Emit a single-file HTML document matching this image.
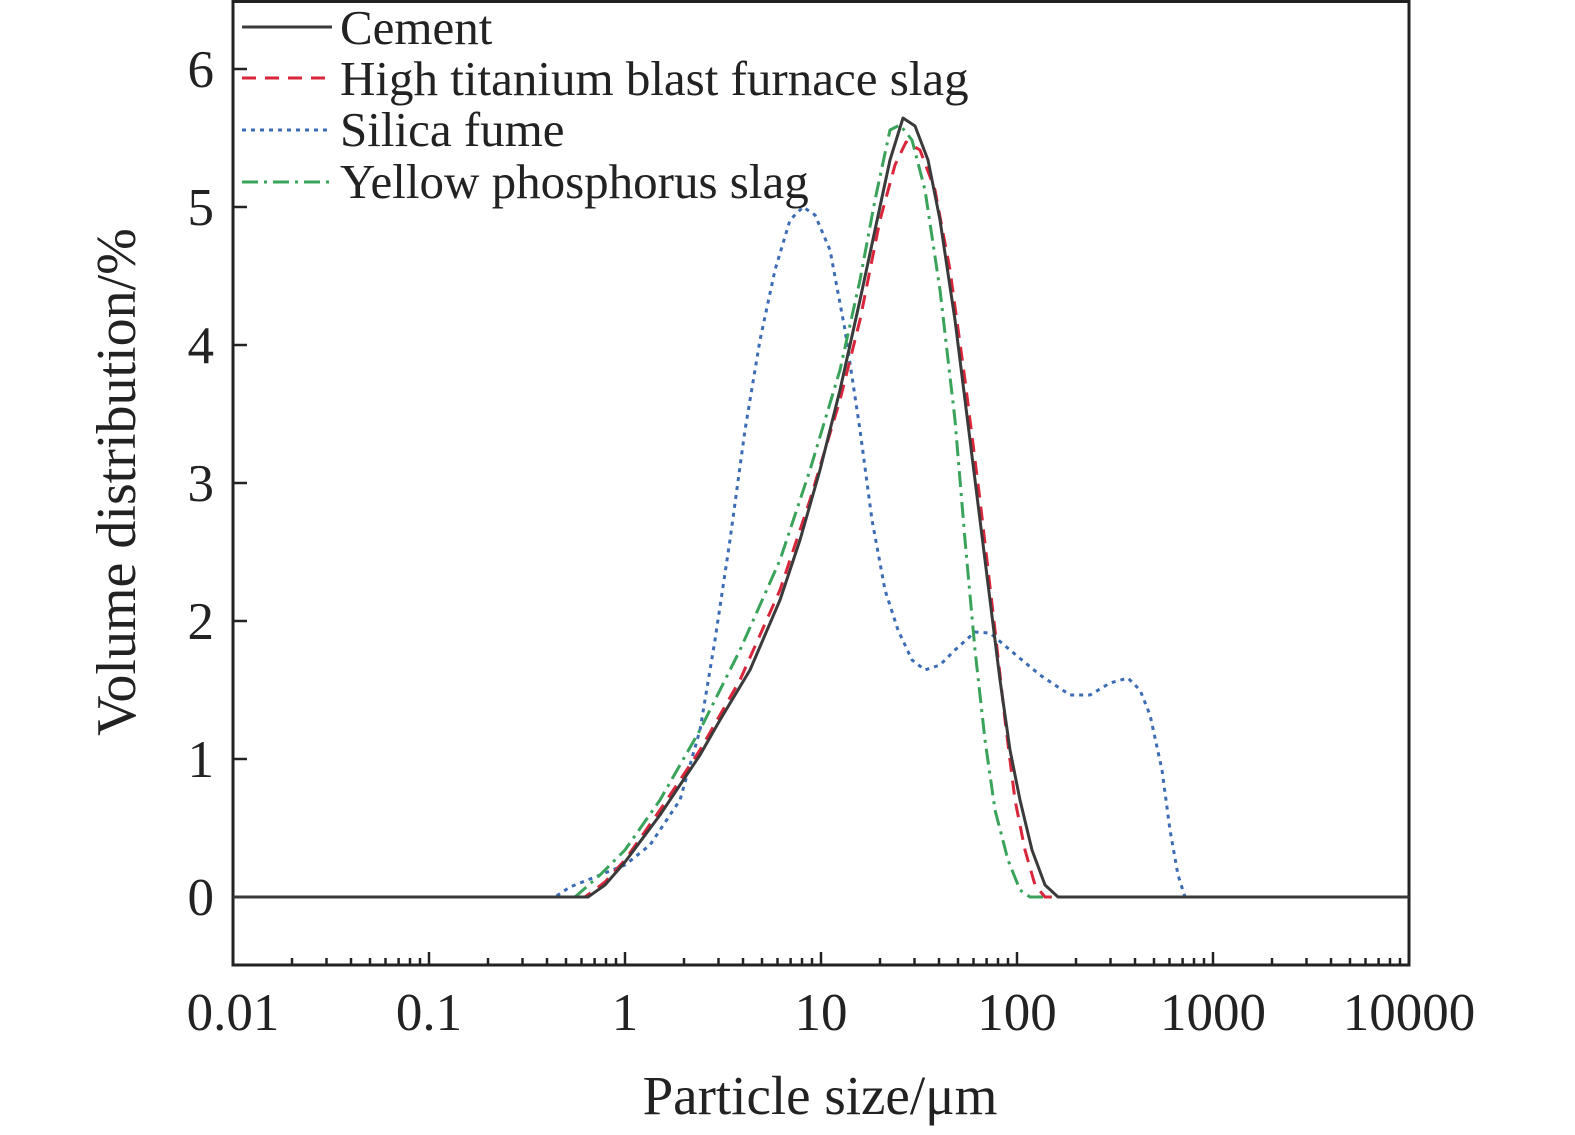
<!DOCTYPE html>
<html><head><style>html,body{margin:0;padding:0;background:#fff;overflow:hidden;width:1575px;height:1135px}svg{display:block}text{font-family:"Liberation Serif",serif;fill:#222}</style></head><body>
<svg width="1575" height="1135" viewBox="0 0 1575 1135" xmlns="http://www.w3.org/2000/svg">
<rect x="233" y="1.5" width="1176" height="963.5" fill="none" stroke="#222" stroke-width="3"/>
<g stroke="#222" stroke-width="2.5">
<path d="M233 965v-13M429 965v-13M625 965v-13M821 965v-13M1017 965v-13M1213 965v-13M1409 965v-13"/>
<path d="M292 965v-7M326.5 965v-7M351 965v-7M370 965v-7M385.5 965v-7M398.6 965v-7M410 965v-7M420 965v-7
M488 965v-7M522.5 965v-7M547 965v-7M566 965v-7M581.5 965v-7M594.6 965v-7M606 965v-7M616 965v-7
M684 965v-7M718.5 965v-7M743 965v-7M762 965v-7M777.5 965v-7M790.6 965v-7M802 965v-7M812 965v-7
M880 965v-7M914.5 965v-7M939 965v-7M958 965v-7M973.5 965v-7M986.6 965v-7M998 965v-7M1008 965v-7
M1076 965v-7M1110.5 965v-7M1135 965v-7M1154 965v-7M1169.5 965v-7M1182.6 965v-7M1194 965v-7M1204 965v-7
M1272 965v-7M1306.5 965v-7M1331 965v-7M1350 965v-7M1365.5 965v-7M1378.6 965v-7M1390 965v-7M1400 965v-7"/>
<path d="M233 897h14M233 759h14M233 621h14M233 483h14M233 345h14M233 207h14M233 69h14"/>
</g>
<g font-size="53" text-anchor="end">
<text x="214" y="915">0</text><text x="214" y="777">1</text><text x="214" y="639">2</text><text x="214" y="501">3</text><text x="214" y="363">4</text><text x="214" y="225">5</text><text x="214" y="87">6</text>
</g>
<g font-size="53" text-anchor="middle">
<text x="233" y="1030">0.01</text><text x="429" y="1030">0.1</text><text x="625" y="1030">1</text><text x="821" y="1030">10</text><text x="1017" y="1030">100</text><text x="1213" y="1030">1000</text><text x="1409" y="1030">10000</text>
</g>
<text x="820" y="1114" font-size="55" text-anchor="middle">Particle size/μm</text>
<text transform="translate(135,482) rotate(-90)" font-size="56" text-anchor="middle">Volume distribution/%</text>
<g fill="none" stroke-width="3" stroke-linejoin="round">
<polyline stroke="#3b6cb5" stroke-dasharray="4,5" points="233,897 555,897 570,887 600,875 625,865 650,845 680,800 700,730 715,640 730,540 745,430 760,340 775,270 790,220 803,207 815,215 830,250 845,330 860,430 872,520 885,590 898,630 912,660 925,670 940,665 955,650 975,632 990,633 1010,650 1040,675 1070,695 1090,695 1110,683 1128,678 1140,690 1150,715 1162,770 1170,830 1178,875 1185,897 1409,897"/>
<polyline stroke="#3aa35a" stroke-dasharray="16,6,3,6" points="233,897 575,897 600,875 625,850 660,800 700,730 740,650 780,560 810,470 840,370 860,280 875,200 890,130 900,125 912,140 925,190 940,290 955,420 965,540 975,650 985,740 995,810 1008,860 1020,890 1030,897 1409,897"/>
<polyline stroke="#d9263a" stroke-dasharray="14,9" points="233,897 585,897 605,882 625,860 660,810 700,750 740,680 780,590 810,500 840,400 860,320 880,220 895,165 906,142 920,150 935,190 950,270 965,380 980,500 995,630 1005,720 1015,800 1025,850 1035,885 1045,897 1409,897"/>
<polyline stroke="#3a3a3a" points="233,897 588,897 605,885 625,862 660,815 700,755 720,720 750,670 780,600 800,540 820,470 840,390 860,300 875,230 890,160 903,118 915,126 928,160 940,220 955,320 970,440 985,560 1000,680 1010,750 1020,800 1032,850 1045,885 1058,897 1409,897"/>
</g>
<g fill="none" stroke-width="3">
<line x1="242" y1="27" x2="332" y2="27" stroke="#3a3a3a"/>
<line x1="242" y1="78" x2="332" y2="78" stroke="#d9263a" stroke-dasharray="14,9"/>
<line x1="242" y1="130" x2="332" y2="130" stroke="#3b6cb5" stroke-dasharray="4,5"/>
<line x1="242" y1="182" x2="332" y2="182" stroke="#3aa35a" stroke-dasharray="16,6,3,6"/>
</g>
<g font-size="49">
<text x="340" y="44">Cement</text>
<text x="340" y="95">High titanium blast furnace slag</text>
<text x="340" y="146">Silica fume</text>
<text x="340" y="198">Yellow phosphorus slag</text>
</g>
</svg>
</body></html>
